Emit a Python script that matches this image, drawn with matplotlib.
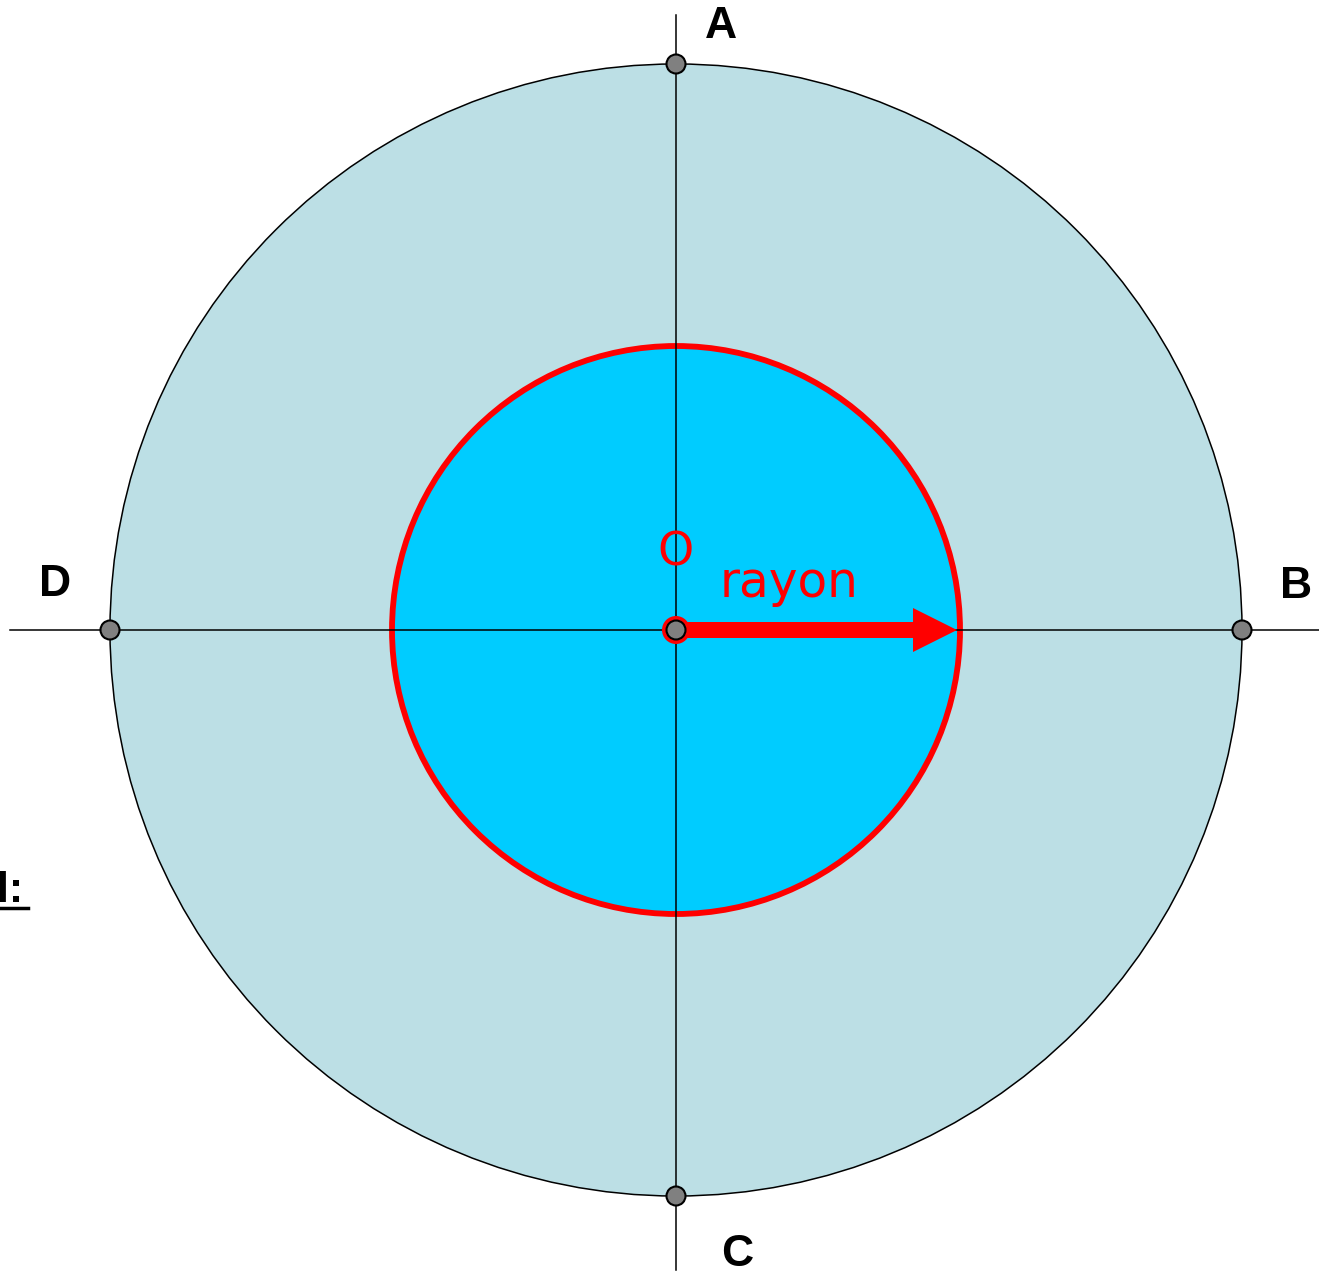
import numpy as np
import matplotlib.pyplot as plt
from matplotlib.patches import Circle, FancyArrow

# geometry of the drawing (pixel units of the picture)
center = (676, 630)
outer_radius = 566
inner_radius = 284
axis_x_range = [10, 1319]
axis_y_range = [15, 1270]

point_names = ['A', 'B', 'C', 'D']
point_angles = [90, 0, 270, 180]          # degrees, counter-clockwise
label_offsets = [(45, -38), (54, -44), (61, 59), (-55, -45)]

W, H = 1319, 1276
fig = plt.figure(figsize=(W / 100, H / 100), dpi=100)
ax = fig.add_axes([0, 0, 1, 1])
ax.set_xlim(0, W)
ax.set_ylim(H, 0)
ax.axis('off')

cx, cy = center
ax.add_patch(Circle(center, outer_radius, facecolor='#bcdfe5', edgecolor='black',
                    lw=1.1, zorder=1))
ax.add_patch(Circle(center, inner_radius, facecolor='#00ccff', edgecolor='red',
                    lw=4.2, zorder=2))

# axes through the center
ax.plot(axis_x_range, [cy, cy], color='black', lw=1.1, zorder=3)
ax.plot([cx, cx], axis_y_range, color='black', lw=1.1, zorder=3)

# radius arrow
ax.add_patch(FancyArrow(cx, cy, inner_radius - 3, 0, width=16, head_width=44,
                        head_length=44, length_includes_head=True,
                        color='red', lw=0, zorder=4))

# points on the outer circle
for name, ang, (dx, dy) in zip(point_names, point_angles, label_offsets):
    px = cx + outer_radius * np.cos(np.radians(ang))
    py = cy - outer_radius * np.sin(np.radians(ang))
    ax.add_patch(Circle((px, py), 9.5, facecolor='#808080', edgecolor='black',
                        lw=1.5, zorder=5))
    ax.text(px + dx, py + dy, name, fontsize=32, fontweight='bold',
            family='Liberation Sans', ha='center', va='center', zorder=6)

# center point
ax.add_patch(Circle(center, 14, facecolor='red', edgecolor='none', zorder=5))
ax.add_patch(Circle(center, 9.5, facecolor='#808080', edgecolor='black',
                    lw=1.5, zorder=6))
ax.text(cx, cy - 77, 'O', color='red', fontsize=33, ha='center', va='center',
        family='DejaVu Sans', zorder=6)
ax.text(720, cy - 33, 'rayon', color='red', fontsize=35, ha='left',
        va='baseline', family='DejaVu Sans', zorder=6)

# cut-off label on the left edge (cut in the reference too)
ax.text(23, 902, 'l:', fontsize=31, fontweight='bold', family='Liberation Sans',
        ha='right', va='baseline', zorder=6)
ax.plot([0, 28], [908, 908], color='black', lw=2.5, zorder=6)

fig.savefig('out.png', dpi=100)
